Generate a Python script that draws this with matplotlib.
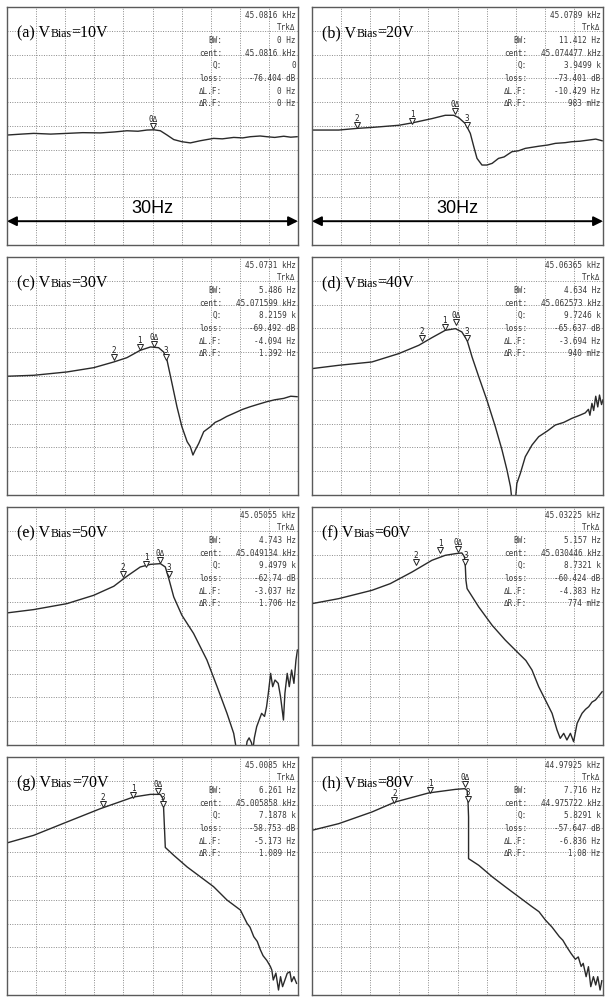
import matplotlib
matplotlib.use("Agg")
import matplotlib.pyplot as plt
from matplotlib.offsetbox import TextArea, HPacker, AnchoredOffsetbox

a_x = [0, 0.5, 0.92, 1.5, 2.06, 2.6, 3.21, 3.7, 4.12, 4.5, 4.81, 5.05, 5.27, 5.5, 5.73, 6.01, 6.3, 6.64, 7.1, 7.4, 7.79, 8.1, 8.36, 8.7, 8.93, 9.2, 9.51, 9.75, 9.97]
a_y = [4.62, 4.66, 4.69, 4.66, 4.69, 4.72, 4.71, 4.75, 4.8, 4.78, 4.83, 4.84, 4.8, 4.62, 4.43, 4.34, 4.29, 4.38, 4.48, 4.46, 4.52, 4.5, 4.55, 4.58, 4.55, 4.52, 4.57, 4.53, 4.55]
b_x = [0, 0.92, 1.55, 2.06, 2.98, 3.44, 4.12, 4.58, 4.87, 5.04, 5.27, 5.44, 5.56, 5.67, 5.84, 6.01, 6.19, 6.41, 6.6, 6.87, 7.1, 7.33, 7.79, 8.1, 8.36, 8.7, 8.93, 9.2, 9.51, 9.75, 9.97]
b_y = [4.83, 4.83, 4.9, 4.94, 5.03, 5.13, 5.31, 5.45, 5.45, 5.35, 5.1, 4.69, 4.13, 3.64, 3.36, 3.36, 3.43, 3.64, 3.7, 3.92, 3.96, 4.06, 4.15, 4.2, 4.27, 4.3, 4.34, 4.36, 4.41, 4.45, 4.38]
c_x = [0, 0.92, 2.06, 2.98, 3.67, 4.12, 4.58, 4.93, 5.21, 5.38, 5.5, 5.67, 5.84, 6.01, 6.19, 6.3, 6.39, 6.47, 6.59, 6.76, 6.99, 7.15, 7.33, 7.55, 7.79, 8.1, 8.36, 8.6, 8.93, 9.2, 9.51, 9.75, 9.97]
c_y = [4.99, 5.03, 5.17, 5.35, 5.59, 5.77, 6.08, 6.22, 6.19, 6.01, 5.66, 4.69, 3.71, 2.87, 2.24, 2.03, 1.68, 1.89, 2.17, 2.66, 2.87, 3.05, 3.15, 3.3, 3.43, 3.6, 3.71, 3.8, 3.92, 4.0, 4.06, 4.15, 4.13]
d_x = [0, 0.92, 2.06, 2.98, 3.67, 4.12, 4.58, 4.93, 5.15, 5.33, 5.5, 5.73, 6.01, 6.3, 6.53, 6.7, 6.82, 6.87, 6.99, 7.04, 7.16, 7.33, 7.56, 7.79, 8.1, 8.36, 8.65, 8.93, 9.2, 9.39, 9.5, 9.55, 9.62, 9.68, 9.75, 9.82, 9.88, 9.95, 10.0]
d_y = [5.31, 5.45, 5.59, 5.94, 6.29, 6.61, 6.92, 6.99, 6.85, 6.5, 5.8, 4.97, 3.99, 2.87, 1.89, 1.05, 0.35, -0.2, -0.2, 0.49, 0.91, 1.61, 2.1, 2.45, 2.7, 2.94, 3.05, 3.22, 3.35, 3.45, 3.6, 3.35, 3.85, 3.55, 4.15, 3.7, 4.2, 3.8, 4.0]
e_x = [0, 0.92, 2.06, 2.98, 3.67, 4.12, 4.58, 4.93, 5.27, 5.44, 5.56, 5.73, 6.01, 6.41, 6.87, 7.22, 7.56, 7.79, 7.9, 8.2, 8.25, 8.32, 8.4, 8.45, 8.5, 8.58, 8.75, 8.85, 8.92, 8.98, 9.06, 9.13, 9.21, 9.32, 9.4, 9.5, 9.55, 9.63, 9.7, 9.78, 9.86, 9.93, 9.98]
e_y = [5.55, 5.69, 5.94, 6.29, 6.67, 7.09, 7.48, 7.59, 7.62, 7.48, 6.99, 6.22, 5.45, 4.69, 3.57, 2.45, 1.33, 0.49, -0.3, -0.3, 0.15, 0.3, 0.1, -0.2, 0.3, 0.77, 1.33, 1.2, 1.61, 2.17, 3.01, 2.45, 2.73, 2.59, 2.03, 1.05, 2.17, 3.01, 2.45, 3.15, 2.59, 3.57, 3.99]
f_x = [0, 0.92, 2.06, 2.69, 3.44, 4.12, 4.58, 4.93, 5.15, 5.24, 5.27, 5.29, 5.33, 5.73, 6.19, 6.64, 7.1, 7.35, 7.56, 7.79, 8.02, 8.25, 8.42, 8.53, 8.65, 8.76, 8.88, 8.99, 9.11, 9.28, 9.4, 9.51, 9.62, 9.74, 9.85, 9.97]
f_y = [5.94, 6.15, 6.5, 6.78, 7.27, 7.76, 7.97, 8.04, 8.07, 7.9, 7.48, 6.92, 6.57, 5.8, 5.03, 4.41, 3.85, 3.55, 3.15, 2.45, 1.89, 1.33, 0.63, 0.28, 0.49, 0.21, 0.49, 0.14, 0.91, 1.33, 1.5, 1.61, 1.8, 1.89, 2.05, 2.24]
g_x = [0, 0.92, 2.06, 3.21, 4.35, 4.93, 5.27, 5.36, 5.38, 5.41, 5.44, 5.73, 6.19, 6.64, 7.1, 7.56, 8.02, 8.25, 8.35, 8.48, 8.6, 8.71, 8.8, 8.93, 9.05, 9.1, 9.15, 9.24, 9.33, 9.4, 9.47, 9.55, 9.63, 9.72, 9.78, 9.86, 9.95]
g_y = [6.39, 6.71, 7.27, 7.83, 8.32, 8.43, 8.43, 8.25, 7.9, 7.06, 6.2, 5.87, 5.38, 4.97, 4.55, 3.99, 3.57, 3.01, 2.85, 2.45, 2.25, 1.89, 1.65, 1.45, 1.2, 1.05, 0.63, 0.92, 0.21, 0.77, 0.35, 0.63, 0.91, 0.98, 0.56, 0.77, 0.49]
h_x = [0, 0.92, 2.06, 2.86, 4.01, 4.93, 5.25, 5.33, 5.36, 5.38, 5.38, 5.73, 6.19, 6.64, 7.1, 7.56, 7.8, 8.02, 8.25, 8.5, 8.62, 8.75, 8.9, 9.05, 9.15, 9.25, 9.32, 9.42, 9.5, 9.58, 9.67, 9.75, 9.82, 9.9, 9.96]
h_y = [6.92, 7.2, 7.69, 8.11, 8.49, 8.64, 8.67, 8.6, 8.18, 7.48, 5.73, 5.45, 4.97, 4.55, 4.13, 3.71, 3.5, 3.15, 2.85, 2.45, 2.3, 2.03, 1.75, 1.5, 1.6, 1.2, 1.33, 0.77, 1.19, 0.35, 0.77, 0.42, 0.77, 0.21, 0.6]

# markers: (label, x, y)
a_mk = [("0\u0394", 5.02, 5.0)]
b_mk = [("2", 1.55, 5.03), ("1", 3.44, 5.22), ("0\u0394", 4.93, 5.62), ("3", 5.33, 5.03)]
c_mk = [("2", 3.67, 5.8), ("1", 4.56, 6.22), ("0\u0394", 5.04, 6.36), ("3", 5.46, 5.8)]
d_mk = [("2", 3.78, 6.6), ("1", 4.56, 7.06), ("0\u0394", 4.95, 7.27), ("3", 5.33, 6.6)]
e_mk = [("2", 3.99, 7.2), ("1", 4.78, 7.62), ("0\u0394", 5.27, 7.76), ("3", 5.56, 7.2)]
f_mk = [("2", 3.57, 7.69), ("1", 4.41, 8.18), ("0\u0394", 5.02, 8.25), ("3", 5.27, 7.69)]
g_mk = [("2", 3.29, 8.04), ("1", 4.33, 8.39), ("0\u0394", 5.18, 8.57), ("3", 5.35, 8.04)]
h_mk = [("2", 2.83, 8.18), ("1", 4.07, 8.63), ("0\u0394", 5.25, 8.88), ("3", 5.36, 8.25)]

letters = ["a", "b", "c", "d", "e", "f", "g", "h"]
volts = ["10V", "20V", "30V", "40V", "50V", "60V", "70V", "80V"]
readout_keys = ["", "", "BW:", "cent:", "Q:", "loss:", "\u0394L.F:", "\u0394R.F:"]
a_read = ["45.0816 kHz", "Trk\u0394", "0 Hz", "45.0816 kHz", "0", "-76.404 dB", "0 Hz", "0 Hz"]
b_read = ["45.0789 kHz", "Trk\u0394", "11.412 Hz", "45.074477 kHz", "3.9499 k", "-73.401 dB", "-10.429 Hz", "983 mHz"]
c_read = ["45.0731 kHz", "Trk\u0394", "5.486 Hz", "45.071599 kHz", "8.2159 k", "-69.492 dB", "-4.094 Hz", "1.392 Hz"]
d_read = ["45.06365 kHz", "Trk\u0394", "4.634 Hz", "45.062573 kHz", "9.7246 k", "-65.637 dB", "-3.694 Hz", "940 mHz"]
e_read = ["45.05055 kHz", "Trk\u0394", "4.743 Hz", "45.049134 kHz", "9.4979 k", "-62.74 dB", "-3.037 Hz", "1.706 Hz"]
f_read = ["45.03225 kHz", "Trk\u0394", "5.157 Hz", "45.030446 kHz", "8.7321 k", "-60.424 dB", "-4.383 Hz", "774 mHz"]
g_read = ["45.0085 kHz", "Trk\u0394", "6.261 Hz", "45.005858 kHz", "7.1878 k", "-58.753 dB", "-5.173 Hz", "1.089 Hz"]
h_read = ["44.97925 kHz", "Trk\u0394", "7.716 Hz", "44.975722 kHz", "5.8291 k", "-57.647 dB", "-6.836 Hz", "1.08 Hz"]

traces = [(a_x, a_y), (b_x, b_y), (c_x, c_y), (d_x, d_y), (e_x, e_y), (f_x, f_y), (g_x, g_y), (h_x, h_y)]
markers = [a_mk, b_mk, c_mk, d_mk, e_mk, f_mk, g_mk, h_mk]
readouts = [a_read, b_read, c_read, d_read, e_read, f_read, g_read, h_read]

fig = plt.figure(figsize=(6.1, 10), dpi=100)
lefts = [7, 312]
tops = [7, 257, 507, 757]
W, H = 291, 238

mono = "DejaVu Sans Mono"
serif = "Liberation Serif"
for i in range(8):
    r, c = divmod(i, 2)
    ax = fig.add_axes([lefts[c] / 610, 1 - (tops[r] + H) / 1000, W / 610, H / 1000])
    ax.set_xlim(0, 10)
    ax.set_ylim(0, 10)
    ax.set_xticks(range(1, 10))
    ax.set_yticks(range(1, 10))
    ax.tick_params(length=0, labelbottom=False, labelleft=False)
    ax.grid(True, ls=(0, (1, 1.5)), color="#8a8a8a", lw=0.7)
    for s in ax.spines.values():
        s.set_color("#5a5a5a")
        s.set_linewidth(1.0)

    x, y = traces[i]
    ax.plot(x, y, color="#2a2a2a", lw=1.0)

    for lab, mx, my in markers[i]:
        ax.plot(mx, my, marker="v", ms=5, mfc="white", mec="#222222", mew=0.7)
        ax.text(mx, my + 0.27, lab, fontsize=5.5, family=mono, ha="center", va="center", color="#222222")

    # readout block
    vals = readouts[i]
    for k in range(8):
        yy = 9.65 - 0.53 * k
        ax.text(9.92, yy, vals[k], fontsize=5.5, family=mono, ha="right", va="center", color="#3a3a3a")
        if readout_keys[k]:
            ax.text(7.4, yy, readout_keys[k], fontsize=5.5, family=mono, ha="right", va="center", color="#3a3a3a")

    # panel title: (x) V_Bias=..
    parts = [
        TextArea("(%s) V" % letters[i], textprops=dict(fontsize=11.5, family=serif)),
        TextArea("Bias", textprops=dict(fontsize=8.5, family=serif)),
        TextArea("=" + volts[i], textprops=dict(fontsize=11.5, family=serif)),
    ]
    box = HPacker(children=parts, align="baseline", pad=0, sep=0)
    anc = AnchoredOffsetbox(loc="center left", child=box, pad=0, borderpad=0, frameon=False,
                            bbox_to_anchor=(0.035, 0.89), bbox_transform=ax.transAxes)
    ax.add_artist(anc)

    if i < 2:
        ax.annotate("", xy=(0, 1.0), xytext=(10, 1.0),
                    arrowprops=dict(arrowstyle="<|-|>", color="black", lw=1.4, mutation_scale=14,
                                    shrinkA=0, shrinkB=0))
        ax.text(5.0, 1.55, "30Hz", fontsize=13, family="Liberation Sans", ha="center", va="center")

fig.savefig("out.png", dpi=100)
